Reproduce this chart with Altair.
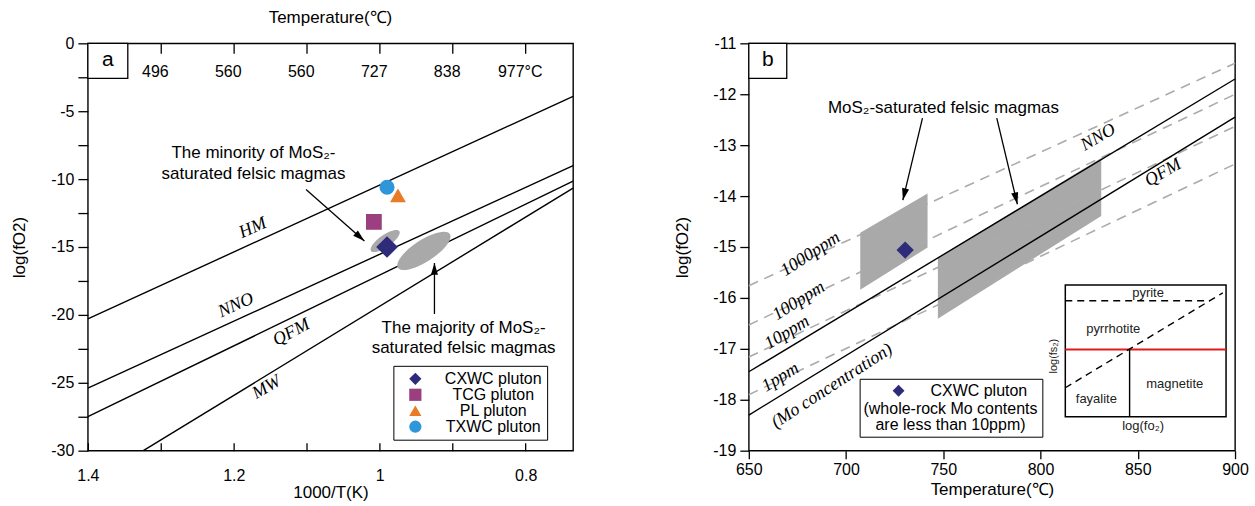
import math
import altair as alt
import pandas as pd

FONT = "Liberation Sans"
SERIF = "Liberation Serif"
BLACK = "#000000"
GREY_FILL = "#a9a9a9"
DASH_GREY = "#ababab"

# ================= Panel a data =================
buffer_a = ["HM", "NNO", "QFM", "MW"]
buffer_a_x1 = [1.4, 1.4, 1.4, 1.324]
buffer_a_y1 = [-20.3, -25.4, -27.5, -30.0]
buffer_a_x2 = [0.735, 0.735, 0.735, 0.735]
buffer_a_y2 = [-3.9, -9.0, -10.15, -10.66]

label_a_x = [1.174, 1.197, 1.121, 1.155]
label_a_y = [-13.6, -19.3, -21.3, -25.35]

plutons = ["CXWC pluton", "TCG pluton", "PL pluton", "TXWC pluton"]
pluton_x = [0.990, 1.008, 0.975, 0.990]
pluton_y = [-15.0, -13.15, -11.2, -10.6]

fields_a = ["minority", "majority"]
field_a_x = [0.9925, 0.9395]
field_a_y = [-14.56, -15.29]

note_a_text = ["The minority of MoS\u2082-", "saturated felsic magmas",
               "The majority of MoS\u2082-", "saturated felsic magmas"]
note_a_x = [1.173, 1.173, 0.885, 0.885]
note_a_y = [-8.1, -9.65, -20.95, -22.45]

arrow_a_x1 = [1.101, 0.925]
arrow_a_y1 = [-10.76, -19.93]
arrow_a_x2 = [1.021, 0.925]
arrow_a_y2 = [-14.56, -16.18]

ticks_a_bottom = [1.4, 1.3, 1.2, 1.1, 1.0, 0.9, 0.8]
ticks_a_top = [1.3, 1.2, 1.1, 1.0, 0.9, 0.8]
ticks_a_top_labels = ["496", "560", "560", "727", "838", "977\u00b0C"]
ticks_a_y = [0, -2.5, -5, -7.5, -10, -12.5, -15, -17.5, -20, -22.5, -25, -27.5, -30]

# ================= Panel b data =================
buffer_b = ["NNO", "QFM"]
buffer_b_y650 = [-17.45, -18.3]
buffer_b_y900 = [-11.7, -12.45]

mo_b = ["1000ppm", "100ppm", "10ppm", "1ppm"]
mo_b_y650 = [-15.76, -16.53, -17.16, -17.9]
mo_b_y900 = [-11.39, -12.0, -12.63, -13.37]

label_b_text = ["1000ppm", "100ppm", "10ppm", "1ppm", "(Mo concentration)", "NNO", "QFM"]
label_b_x = [681.7, 675.7, 669.7, 666.3, 692.8, 829.7, 863.0]
label_b_y = [-15.14, -16.06, -16.68, -17.56, -17.73, -12.85, -13.54]

sat_group = ["small", "small", "large", "large"]
sat_T = [707.3, 741.9, 747.2, 831.2]
sat_lo = [-15.84, -15.01, -16.41, -14.39]
sat_hi = [-14.72, -13.95, -15.21, -13.25]

cxwc_b_T = [730.4]
cxwc_b_y = [-15.06]

note_b_text = ["MoS\u2082-saturated felsic magmas"]
note_b_x = [750.1]
note_b_y = [-12.27]

arrow_b_x1 = [739.3, 777.5]
arrow_b_y1 = [-12.47, -12.47]
arrow_b_x2 = [729.2, 788.1]
arrow_b_y2 = [-14.08, -14.16]

ticks_b_x = [650, 700, 750, 800, 850, 900]
ticks_b_y = [-11, -12, -13, -14, -15, -16, -17, -18, -19]

# inset (schematic units 0-10)
inset_kind = ["dash", "dash", "red", "solid"]
inset_x1 = [0, 0, 0, 4.0]
inset_y1 = [8.8, 2.2, 5.1, 0]
inset_x2 = [9.0, 9.8, 10, 4.0]
inset_y2 = [8.8, 9.4, 5.1, 5.1]
inset_text = ["pyrite", "pyrrhotite", "magnetite", "fayalite", "log(fo\u2082)"]
inset_text_x = [5.15, 2.98, 6.81, 1.93, 4.84]
inset_text_y = [9.42, 6.67, 2.52, 1.36, -0.72]

# ================= styles =================
W_A, H_A = 486, 408
W_B, H_B = 487, 408
pluton_colors = ["#2d2b7a", "#9b3f80", "#e97a26", "#2f97d9"]
pluton_shapes = ["diamond", "square", "triangle-up", "circle"]
pluton_sizes = [470, 250, 250, 230]
field_sizes = [1200, 3850]
field_angles = [325, 327]
label_a_angles = [336, 336, 332, 330]
label_b_angles = [327, 328, 329, 329, 327, 330, 330]
ELLIPSE = ("M-1,0C-1,-0.193,-0.552,-0.35,0,-0.35C0.552,-0.35,1,-0.193,1,0"
           "C1,0.193,0.552,0.35,0,0.35C-0.552,0.35,-1,0.193,-1,0Z")
ARROW = "M0,0L-0.3,1L0.3,1Z"


def px_a(x, y):
    return ((1.4 - x) * W_A / (1.4 - 0.735), -y * H_A / 30.0)


def px_b(t, v):
    return ((t - 650) * W_B / 250.0, (-11 - v) * H_B / 8.0)


def head_angle(p1, p2):
    dx, dy = p2[0] - p1[0], p2[1] - p1[1]
    return math.degrees(math.atan2(dx, -dy)) % 360


sx_a = alt.Scale(domain=[0.735, 1.4], reverse=True, nice=False, zero=False)
sy_a = alt.Scale(domain=[-30, 0], nice=False, zero=False)
sx_b = alt.Scale(domain=[650, 900], nice=False, zero=False)
sy_b = alt.Scale(domain=[-19, -11], nice=False, zero=False)

AX = dict(labelFont=FONT, titleFont=FONT, labelFontSize=16, titleFontSize=17,
          labelColor=BLACK, titleColor=BLACK, tickColor=BLACK, tickWidth=1.3,
          titleFontWeight="normal", grid=False, labelFlush=False, labelOverlap=False)

axis_a_bottom = alt.Axis(values=ticks_a_bottom, offset=-8, tickSize=8, domain=False,
                         labelExpr="round(datum.value*10) % 2 == 0 ? '' + datum.value : ''",
                         labelPadding=17, title="1000/T(K)", titlePadding=1, **AX)
axis_a_left = alt.Axis(values=ticks_a_y, tickSize=10, domain=False,
                       labelExpr="round(datum.value*2) % 10 == 0 ? '' + datum.value : ''",
                       labelPadding=4, title="log(fO2)", titlePadding=22, **AX)
top_expr = "[" + ",".join("'%s'" % s for s in ticks_a_top_labels) + "][round((1.3 - datum.value)*10)]"
axis_a_top = alt.Axis(orient="top", values=ticks_a_top, offset=-10, tickSize=10, domain=False,
                      labelExpr=top_expr, labelPadding=-36, labelOffset=-6, title=None, **AX)

# ---------- panel a layers ----------
df_buf_a = pd.DataFrame(dict(name=buffer_a, x1=buffer_a_x1, y1=buffer_a_y1,
                             x2=buffer_a_x2, y2=buffer_a_y2))
lines_a = alt.Chart(df_buf_a).mark_rule(color=BLACK, strokeWidth=1.4).encode(
    x=alt.X("x1:Q", scale=sx_a, axis=axis_a_bottom),
    y=alt.Y("y1:Q", scale=sy_a, axis=axis_a_left),
    x2="x2:Q", y2="y2:Q")

top_axis_layer = alt.Chart(pd.DataFrame({"t": ticks_a_top})).mark_point(opacity=0).encode(
    x=alt.X("t:Q", scale=sx_a, axis=axis_a_top))

df_lab_a = pd.DataFrame(dict(text=buffer_a, x=label_a_x, y=label_a_y, ang=label_a_angles))
labels_a = alt.Chart(df_lab_a).mark_text(font=SERIF, fontStyle="italic", fontSize=18,
                                          color=BLACK).encode(
    x=alt.X("x:Q", scale=sx_a, axis=None), y=alt.Y("y:Q", scale=sy_a, axis=None),
    text="text:N", angle=alt.Angle("ang:Q", scale=None))

df_fields_a = pd.DataFrame(dict(name=fields_a, x=field_a_x, y=field_a_y,
                                size=field_sizes, ang=field_angles))
fields_layer_a = alt.Chart(df_fields_a).mark_point(shape=ELLIPSE, filled=True, color=GREY_FILL,
                                                   opacity=1, strokeWidth=0).encode(
    x=alt.X("x:Q", scale=sx_a, axis=None), y=alt.Y("y:Q", scale=sy_a, axis=None),
    size=alt.Size("size:Q", scale=None), angle=alt.Angle("ang:Q", scale=None))

leg_a = alt.Legend(title=None, orient="none", legendX=306, legendY=323, padding=5,
                   strokeColor=BLACK, fillColor="white", labelFont=FONT, labelFontSize=16,
                   labelColor=BLACK, labelAlign="center", labelOffset=70, symbolOffset=9,
                   symbolSize=150, rowPadding=0)
df_pl = pd.DataFrame(dict(pluton=plutons, x=pluton_x, y=pluton_y, size=pluton_sizes))
points_a = alt.Chart(df_pl).mark_point(filled=True, opacity=1, strokeWidth=0).encode(
    x=alt.X("x:Q", scale=sx_a, axis=None), y=alt.Y("y:Q", scale=sy_a, axis=None),
    shape=alt.Shape("pluton:N", scale=alt.Scale(domain=plutons, range=pluton_shapes), legend=leg_a),
    color=alt.Color("pluton:N", scale=alt.Scale(domain=plutons, range=pluton_colors), legend=leg_a),
    size=alt.Size("size:Q", scale=None))

df_note_a = pd.DataFrame(dict(text=note_a_text, x=note_a_x, y=note_a_y))
notes_a = alt.Chart(df_note_a).mark_text(font=FONT, fontSize=17, color=BLACK).encode(
    x=alt.X("x:Q", scale=sx_a, axis=None), y=alt.Y("y:Q", scale=sy_a, axis=None), text="text:N")

df_arr_a = pd.DataFrame(dict(x1=arrow_a_x1, y1=arrow_a_y1, x2=arrow_a_x2, y2=arrow_a_y2))
df_arr_a["ang"] = [head_angle(px_a(a, b), px_a(c, d)) for a, b, c, d in
                   zip(arrow_a_x1, arrow_a_y1, arrow_a_x2, arrow_a_y2)]
arrows_a = alt.Chart(df_arr_a).mark_rule(color=BLACK, strokeWidth=1.3).encode(
    x=alt.X("x1:Q", scale=sx_a, axis=None), y=alt.Y("y1:Q", scale=sy_a, axis=None),
    x2="x2:Q", y2="y2:Q")
heads_a = alt.Chart(df_arr_a).mark_point(shape=ARROW, filled=True, color=BLACK, opacity=1,
                                         size=560, strokeWidth=0).encode(
    x=alt.X("x2:Q", scale=sx_a, axis=None), y=alt.Y("y2:Q", scale=sy_a, axis=None),
    angle=alt.Angle("ang:Q", scale=None))

box_a = alt.Chart(pd.DataFrame({"k": ["a"]})).mark_rect(fill="white", stroke=BLACK,
                                                       strokeWidth=1.3).encode(
    x=alt.value(0), x2=alt.value(40), y=alt.value(0), y2=alt.value(35))
box_a_text = alt.Chart(pd.DataFrame({"k": ["a"]})).mark_text(font=FONT, fontSize=21,
                                                            color=BLACK).encode(
    x=alt.value(20), y=alt.value(17), text="k:N")

panel_a = alt.layer(
    lines_a, fields_layer_a, points_a, labels_a, notes_a, arrows_a, heads_a,
    box_a, box_a_text, top_axis_layer
).resolve_axis(x="independent", y="independent").properties(
    width=W_A, height=H_A,
    title=alt.TitleParams("Temperature(\u2103)", font=FONT, fontSize=17, fontWeight="normal",
                          color=BLACK, offset=8, anchor="middle", frame="group"))

# ---------- panel b layers ----------
axis_b_x = alt.Axis(values=ticks_b_x, tickSize=8, domain=False, labelExpr="'' + datum.value",
                    labelPadding=3, title="Temperature(\u2103)", titlePadding=4, **AX)
axis_b_y = alt.Axis(values=ticks_b_y, tickSize=9, domain=False, labelExpr="'' + datum.value",
                    labelPadding=4, title="log(fO2)", titlePadding=21, **AX)

df_sat = pd.DataFrame(dict(group=sat_group, T=sat_T, lo=sat_lo, hi=sat_hi))
sat_b = alt.Chart(df_sat).mark_area(color=GREY_FILL, opacity=1).encode(
    x=alt.X("T:Q", scale=sx_b, axis=None), y=alt.Y("lo:Q", scale=sy_b, axis=None),
    y2="hi:Q", detail="group:N")

df_mo = pd.DataFrame(dict(name=mo_b, y650=mo_b_y650, y900=mo_b_y900,
                          t1=[650] * 4, t2=[900] * 4))
mo_lines_b = alt.Chart(df_mo).mark_rule(color=DASH_GREY, strokeWidth=1.6,
                                        strokeDash=[10, 7]).encode(
    x=alt.X("t1:Q", scale=sx_b, axis=None), y=alt.Y("y650:Q", scale=sy_b, axis=None),
    x2="t2:Q", y2="y900:Q")

df_buf_b = pd.DataFrame(dict(name=buffer_b, y650=buffer_b_y650, y900=buffer_b_y900,
                             t1=[650] * 2, t2=[900] * 2))
buf_lines_b = alt.Chart(df_buf_b).mark_rule(color=BLACK, strokeWidth=1.4).encode(
    x=alt.X("t1:Q", scale=sx_b, axis=axis_b_x), y=alt.Y("y650:Q", scale=sy_b, axis=axis_b_y),
    x2="t2:Q", y2="y900:Q")

df_lab_b = pd.DataFrame(dict(text=label_b_text, x=label_b_x, y=label_b_y, ang=label_b_angles))
labels_b = alt.Chart(df_lab_b).mark_text(font=SERIF, fontStyle="italic", fontSize=18,
                                          color=BLACK).encode(
    x=alt.X("x:Q", scale=sx_b, axis=None), y=alt.Y("y:Q", scale=sy_b, axis=None),
    text="text:N", angle=alt.Angle("ang:Q", scale=None))

leg_b = alt.Legend(title=["(whole-rock Mo contents", "are less than 10ppm)"],
                   titleOrient="bottom", titleAnchor="middle", titleAlign="center",
                   titleFont=FONT, titleFontSize=16, titleFontWeight="normal",
                   titleLineHeight=16, titlePadding=2, titleColor=BLACK,
                   orient="none", legendX=111, legendY=336, padding=4,
                   strokeColor=BLACK, fillColor="white", labelFont=FONT, labelFontSize=16,
                   labelColor=BLACK, symbolSize=140, symbolOffset=16, labelOffset=24)
df_cx_b = pd.DataFrame(dict(pluton=[plutons[0]], T=cxwc_b_T, y=cxwc_b_y))
cx_b = alt.Chart(df_cx_b).mark_point(filled=True, opacity=1, strokeWidth=0, size=300).encode(
    x=alt.X("T:Q", scale=sx_b, axis=None), y=alt.Y("y:Q", scale=sy_b, axis=None),
    shape=alt.Shape("pluton:N", scale=alt.Scale(domain=[plutons[0]], range=[pluton_shapes[0]]),
                    legend=leg_b),
    color=alt.Color("pluton:N", scale=alt.Scale(domain=[plutons[0]], range=[pluton_colors[0]]),
                    legend=leg_b))

df_note_b = pd.DataFrame(dict(text=note_b_text, x=note_b_x, y=note_b_y))
notes_b = alt.Chart(df_note_b).mark_text(font=FONT, fontSize=17, color=BLACK).encode(
    x=alt.X("x:Q", scale=sx_b, axis=None), y=alt.Y("y:Q", scale=sy_b, axis=None), text="text:N")

df_arr_b = pd.DataFrame(dict(x1=arrow_b_x1, y1=arrow_b_y1, x2=arrow_b_x2, y2=arrow_b_y2))
df_arr_b["ang"] = [head_angle(px_b(a, b), px_b(c, d)) for a, b, c, d in
                   zip(arrow_b_x1, arrow_b_y1, arrow_b_x2, arrow_b_y2)]
arrows_b = alt.Chart(df_arr_b).mark_rule(color=BLACK, strokeWidth=1.3).encode(
    x=alt.X("x1:Q", scale=sx_b, axis=None), y=alt.Y("y1:Q", scale=sy_b, axis=None),
    x2="x2:Q", y2="y2:Q")
heads_b = alt.Chart(df_arr_b).mark_point(shape=ARROW, filled=True, color=BLACK, opacity=1,
                                         size=560, strokeWidth=0).encode(
    x=alt.X("x2:Q", scale=sx_b, axis=None), y=alt.Y("y2:Q", scale=sy_b, axis=None),
    angle=alt.Angle("ang:Q", scale=None))

box_b = alt.Chart(pd.DataFrame({"k": ["b"]})).mark_rect(fill="white", stroke=BLACK,
                                                       strokeWidth=1.3).encode(
    x=alt.value(0), x2=alt.value(38), y=alt.value(0), y2=alt.value(35))
box_b_text = alt.Chart(pd.DataFrame({"k": ["b"]})).mark_text(font=FONT, fontSize=21,
                                                            color=BLACK).encode(
    x=alt.value(19), y=alt.value(17), text="k:N")

main_b = alt.layer(
    sat_b, mo_lines_b, buf_lines_b, labels_b, cx_b, notes_b, arrows_b, heads_b, box_b, box_b_text
).resolve_axis(x="independent", y="independent")

# inset, with its own schematic scales placed by pixel range
sx_in = alt.Scale(domain=[0, 10], range=[317, 478], nice=False, zero=False)
sy_in = alt.Scale(domain=[0, 10], range=[374, 242], nice=False, zero=False)
inset_frame = alt.Chart(pd.DataFrame({"x1": [0], "x2": [10], "y1": [0], "y2": [10]})).mark_rect(
    fill="white", stroke=BLACK, strokeWidth=1.5).encode(
    x=alt.X("x1:Q", scale=sx_in, axis=None), x2="x2:Q",
    y=alt.Y("y1:Q", scale=sy_in, axis=None), y2="y2:Q")
df_in = pd.DataFrame(dict(kind=inset_kind, x1=inset_x1, y1=inset_y1, x2=inset_x2, y2=inset_y2))
in_base = alt.Chart(df_in).encode(
    x=alt.X("x1:Q", scale=sx_in, axis=None), y=alt.Y("y1:Q", scale=sy_in, axis=None),
    x2="x2:Q", y2="y2:Q")
in_dash = in_base.transform_filter(alt.datum.kind == "dash").mark_rule(
    color=BLACK, strokeWidth=1.4, strokeDash=[7, 5])
in_red = in_base.transform_filter(alt.datum.kind == "red").mark_rule(color="#e31a1c", strokeWidth=2)
in_solid = in_base.transform_filter(alt.datum.kind == "solid").mark_rule(color=BLACK, strokeWidth=1.4)
df_in_t = pd.DataFrame(dict(text=inset_text, x=inset_text_x, y=inset_text_y))
in_text = alt.Chart(df_in_t).mark_text(font=FONT, fontSize=13, color="#222222").encode(
    x=alt.X("x:Q", scale=sx_in, axis=None), y=alt.Y("y:Q", scale=sy_in, axis=None), text="text:N")
in_text_rot = alt.Chart(pd.DataFrame(dict(text=["log(fs\u2082)"], x=[-0.72], y=[4.6]))).mark_text(
    font=FONT, fontSize=11, color="#222222", angle=270).encode(
    x=alt.X("x:Q", scale=sx_in, axis=None), y=alt.Y("y:Q", scale=sy_in, axis=None), text="text:N")
inset_b = alt.layer(inset_frame, in_red, in_solid, in_dash, in_text, in_text_rot)

panel_b = alt.layer(main_b, inset_b).resolve_scale(x="independent", y="independent").properties(
    width=W_B, height=H_B)

chart = alt.hconcat(panel_a, panel_b, spacing=176, bounds="flush").resolve_scale(
    color="independent", shape="independent"
).properties(
    padding={"left": 10, "top": 8, "right": 5, "bottom": 0}, background="white"
).configure_view(stroke=BLACK, strokeWidth=1.4).configure_axis(**AX)

chart.save("out.html", embed_options={"renderer": "svg", "actions": False})
